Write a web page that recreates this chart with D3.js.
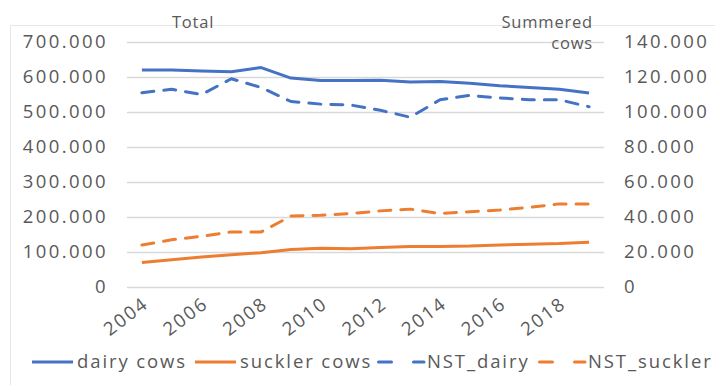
<!DOCTYPE html>
<html>
<head>
<meta charset="utf-8">
<script src="https://cdn.jsdelivr.net/npm/d3@7"></script>
<style>
  body { margin: 0; background: #fff; }
  text { font-family: "Open Sans", sans-serif; fill: #595959; }
</style>
</head>
<body>
<svg id="chart" width="715" height="385"></svg>
<script>
let width = 715;
let height = 385;

// years on the category axis
let years = d3.range(2004, 2020);
let yearLabels = years.filter(d => d % 2 == 0);

// left axis (Total)
let dairyCows = [620, 620, 617, 615, 627, 597, 590, 590, 591, 586, 587, 582, 575, 570, 565, 554].map(d => d * 1000);
let sucklerCows = [70, 78, 86, 92, 98, 107, 111, 109, 113, 116, 116, 117, 120, 122, 124, 128].map(d => d * 1000);

// right axis (Summered cows)
let nstDairy = [111, 113, 110, 119, 114, 106, 104.5, 104, 101, 97, 107, 109.5, 108, 107, 107, 103].map(d => d * 1000);
let nstSuckler = [24, 27, 29, 31.5, 31.5, 40.5, 41, 42, 43.5, 44.5, 42, 43, 44, 45.5, 47.5, 47.5].map(d => d * 1000);

let leftTicks = [0, 100000, 200000, 300000, 400000, 500000, 600000, 700000];
let rightTicks = [0, 20000, 40000, 60000, 80000, 100000, 120000, 140000];

let blue = "#4472C4";
let orange = "#ED7D31";

let svg = d3.select("#chart");
let margin = { top: 42, right: 111, bottom: 98, left: 127 };

let fmt = d => d == 0 ? "0" : d3.format(",")(d).replace(/,/g, ".");

// chart area frame
svg.append("rect")
    .attr("x", 10.5)
    .attr("y", 25.5)
    .attr("width", 720)
    .attr("height", 380)
    .attr("fill", "none")
    .attr("stroke", "#e6e6e6");

let x = d3.scaleBand()
    .domain(years)
    .range([margin.left, width - margin.right]);

let yLeft = d3.scaleLinear()
    .domain([0, 700000])
    .range([height - margin.bottom, margin.top]);

let yRight = d3.scaleLinear()
    .domain([0, 140000])
    .range([height - margin.bottom, margin.top]);

// gridlines
svg.append("g")
    .selectAll("line")
    .data(leftTicks)
    .join("line")
    .attr("x1", margin.left)
    .attr("x2", width - margin.right)
    .attr("y1", d => Math.round(yLeft(d)) + 0.5)
    .attr("y2", d => Math.round(yLeft(d)) + 0.5)
    .attr("stroke", "#d9d9d9")
    .attr("stroke-width", 1.5);

// left axis
let yLeftAxis = svg.append("g")
    .attr("transform", `translate(${margin.left - 19},0)`)
    .call(d3.axisLeft(yLeft).tickValues(leftTicks).tickFormat(fmt).tickSize(0).tickPadding(0))
    .call(g => g.select(".domain").remove());
yLeftAxis.selectAll("text")
    .style("font-size", "18.5px")
    .style("letter-spacing", "2.4px")
    .attr("font-family", null)
    .attr("fill", null);

// right axis
let yRightAxis = svg.append("g")
    .attr("transform", `translate(${width - margin.right + 20},0)`)
    .call(d3.axisRight(yRight).tickValues(rightTicks).tickFormat(fmt).tickSize(0).tickPadding(0))
    .call(g => g.select(".domain").remove());
yRightAxis.selectAll("text")
    .style("font-size", "18.5px")
    .style("letter-spacing", "2.4px")
    .attr("font-family", null)
    .attr("fill", null);

// x axis
let xAxis = svg.append("g")
    .attr("transform", `translate(0,${height - margin.bottom})`)
    .call(d3.axisBottom(x).tickValues(yearLabels).tickSize(0).tickPadding(0))
    .call(g => g.select(".domain").remove());
xAxis.selectAll("text")
    .style("font-size", "18.5px")
    .style("letter-spacing", "2px")
    .attr("font-family", null)
    .attr("fill", null)
    .attr("text-anchor", "end")
    .attr("dy", "0.35em")
    .attr("transform", "translate(4,14) rotate(-37)");

// series
let series = [
  { name: "dairy cows", values: dairyCows, y: yLeft, color: blue, dash: null },
  { name: "suckler cows", values: sucklerCows, y: yLeft, color: orange, dash: null },
  { name: "NST_dairy", values: nstDairy, y: yRight, color: blue, dash: "12,10" },
  { name: "NST_suckler", values: nstSuckler, y: yRight, color: orange, dash: "12,10" }
];

series.forEach(s => {
  let line = d3.line()
      .x((d, i) => x(years[i]) + x.bandwidth() / 2)
      .y(d => s.y(d));
  svg.append("path")
      .datum(s.values)
      .attr("d", line)
      .attr("fill", "none")
      .attr("stroke", s.color)
      .attr("stroke-width", 3)
      .attr("stroke-dasharray", s.dash)
      .attr("stroke-linecap", s.dash ? "round" : "butt")
      .attr("stroke-linejoin", "round");
});

// axis titles
svg.append("text")
    .attr("x", 193)
    .attr("y", 28)
    .attr("text-anchor", "middle")
    .style("font-size", "16.5px")
    .style("letter-spacing", "0.8px")
    .text("Total");

svg.append("text")
    .attr("x", 593)
    .attr("y", 28)
    .attr("text-anchor", "end")
    .style("font-size", "16.5px")
    .style("letter-spacing", "0.8px")
    .text("Summered");
svg.append("text")
    .attr("x", 593)
    .attr("y", 49)
    .attr("text-anchor", "end")
    .style("font-size", "16.5px")
    .style("letter-spacing", "0.8px")
    .text("cows");

// legend
let legendPos = [32, 195, 377, 538];
let legend = svg.append("g")
    .selectAll("g")
    .data(series)
    .join("g")
    .attr("transform", (d, i) => `translate(${legendPos[i]},${362})`);

legend.append("line")
    .attr("x1", d => d.dash ? 1.5 : 0)
    .attr("x2", d => d.dash ? 47 : 41)
    .attr("stroke", d => d.color)
    .attr("stroke-width", 3)
    .attr("stroke-linecap", d => d.dash ? "round" : "butt")
    .attr("stroke-dasharray", d => d.dash ? "13,22" : null);

legend.append("text")
    .attr("x", d => d.dash ? 50 : 45)
    .attr("dy", "0.35em")
    .style("font-size", "18.5px")
    .style("letter-spacing", "1.9px")
    .text(d => d.name);
</script>
</body>
</html>
